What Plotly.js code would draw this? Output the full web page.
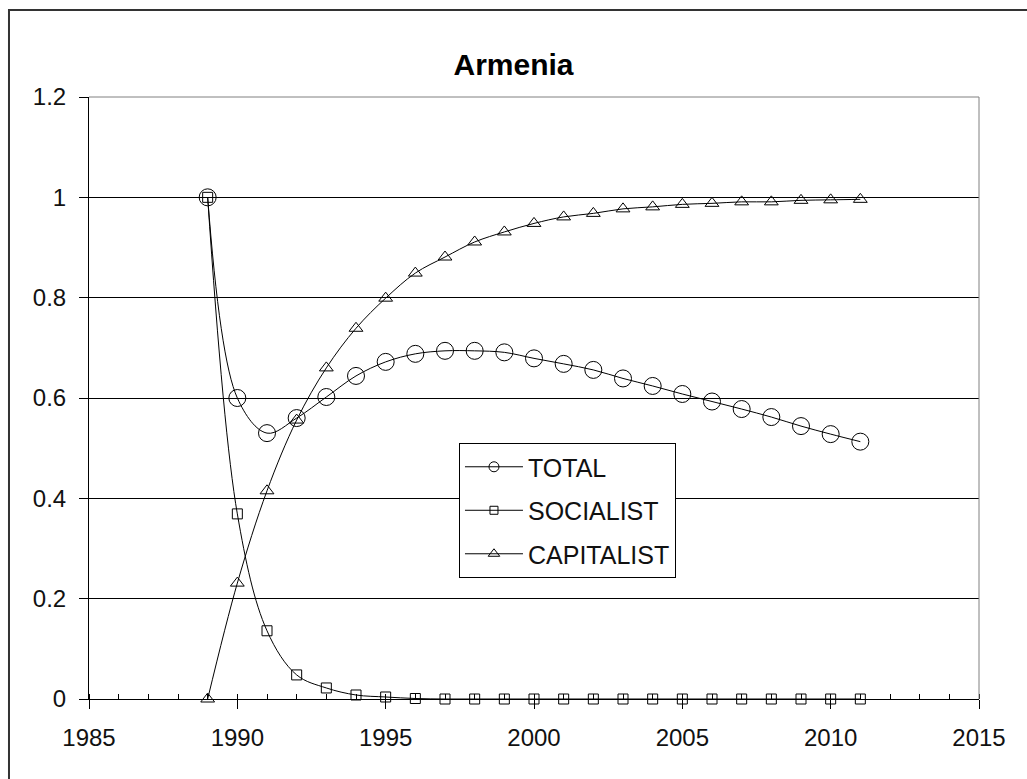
<!DOCTYPE html>
<html>
<head>
<meta charset="utf-8">
<script src="https://cdn.plot.ly/plotly-3.0.1.min.js"></script>
<style>
html,body{margin:0;padding:0;background:#fff;}
#chart{width:1027px;height:779px;}
</style>
</head>
<body>
<div id="chart"></div>
<script>
var chartTitle = "Armenia";
var years = [1989, 1990, 1991, 1992, 1993, 1994, 1995, 1996, 1997, 1998, 1999, 2000,
             2001, 2002, 2003, 2004, 2005, 2006, 2007, 2008, 2009, 2010, 2011];
var total = [1.000, 0.600, 0.530, 0.560, 0.602, 0.644, 0.672, 0.688, 0.694, 0.694, 0.691, 0.679,
             0.668, 0.656, 0.639, 0.624, 0.608, 0.593, 0.578, 0.562, 0.544, 0.528, 0.513];
var socialist = [1.000, 0.369, 0.136, 0.048, 0.022, 0.008, 0.004, 0.001, 0.000, 0.000, 0.000, 0.000,
                 0.000, 0.000, 0.000, 0.000, 0.000, 0.000, 0.000, 0.000, 0.000, 0.000, 0.000];
var capitalist = [0.000, 0.231, 0.415, 0.556, 0.660, 0.739, 0.799, 0.849, 0.881, 0.911, 0.931, 0.948,
                  0.961, 0.968, 0.977, 0.981, 0.986, 0.988, 0.991, 0.991, 0.994, 0.995, 0.996];
var seriesNames = ["TOTAL", "SOCIALIST", "CAPITALIST"];

var FONT = "Arial, 'Liberation Sans', sans-serif";
var symbols = ["circle-open", "square-open", "triangle-up-open"];
var plotSizes = [17, 10, 12];
var legendSizes = [10, 8, 10];
var seriesValues = [total, socialist, capitalist];

var data = [];
seriesValues.forEach(function (vals, i) {
  data.push({
    x: years, y: vals, name: seriesNames[i], type: "scatter", mode: "lines+markers",
    showlegend: false, cliponaxis: false,
    line: {color: "#000", width: 1, shape: "spline", smoothing: 1},
    marker: {symbol: symbols[i], size: plotSizes[i], color: "#000", line: {color: "#000", width: 1}}
  });
});
// legend-only entries (no data points) so legend symbols can be smaller
seriesNames.forEach(function (nm, i) {
  data.push({
    x: [null], y: [null], name: nm, type: "scatter", mode: "lines+markers",
    legendgroup: "g" + i, showlegend: true,
    line: {color: "#000", width: 1},
    marker: {symbol: symbols[i], size: legendSizes[i], color: "#000", line: {color: "#000", width: 1}}
  });
});

var layout = {
  width: 1027, height: 779,
  margin: {l: 89, r: 48, t: 97, b: 80},
  paper_bgcolor: "#fff", plot_bgcolor: "#fff",
  font: {family: FONT, size: 24, color: "#111"},
  title: {text: "<b>" + chartTitle + "</b>", x: 0.5, xref: "container", xanchor: "center",
          y: 1 - 64/779, yref: "container", yanchor: "middle",
          font: {family: FONT, size: 30, color: "#000"}},
  showlegend: true,
  legend: {
    x: 0.4157, y: 0.4252, xanchor: "left", yanchor: "top",
    bgcolor: "#fff", bordercolor: "#000", borderwidth: 1,
    font: {family: FONT, size: 25, color: "#111"},
    traceorder: "grouped", tracegroupgap: 8, itemwidth: 58
  },
  xaxis: {
    range: [1985, 2015], tick0: 1985, dtick: 5, tickmode: "linear",
    showgrid: false, zeroline: false,
    showline: true, linecolor: "#000", linewidth: 1,
    ticks: "outside", ticklen: 9, tickcolor: "#000", tickwidth: 1,
    tickfont: {family: FONT, size: 24, color: "#111"},
    ticklabelstandoff: 8,
    minor: {dtick: 1, tick0: 1985, ticks: "inside", ticklen: 5, tickcolor: "#000", showgrid: false}
  },
  yaxis: {
    range: [0, 1.2], dtick: 0.2, tick0: 0, tickmode: "linear",
    showgrid: true, gridcolor: "#000", gridwidth: 1, zeroline: false,
    showline: true, linecolor: "#000", linewidth: 1,
    ticks: "outside", ticklen: 9, tickcolor: "#000", tickwidth: 1,
    tickfont: {family: FONT, size: 24, color: "#111"},
    ticklabelstandoff: 8
  },
  shapes: [
    {type: "line", xref: "paper", yref: "paper", x0: 0, x1: 1, y0: 1, y1: 1,
     line: {color: "#808080", width: 1}, layer: "above"},
    {type: "line", xref: "paper", yref: "paper", x0: 1, x1: 1, y0: 0, y1: 1,
     line: {color: "#808080", width: 1}, layer: "above"},
    {type: "rect", xref: "paper", yref: "paper", x0: -0.0899, x1: 1.06, y0: -0.15, y1: 1.1445,
     line: {color: "#333", width: 2}, layer: "above"}
  ]
};

Plotly.newPlot("chart", data, layout, {displayModeBar: false, staticPlot: true});
</script>
</body>
</html>
